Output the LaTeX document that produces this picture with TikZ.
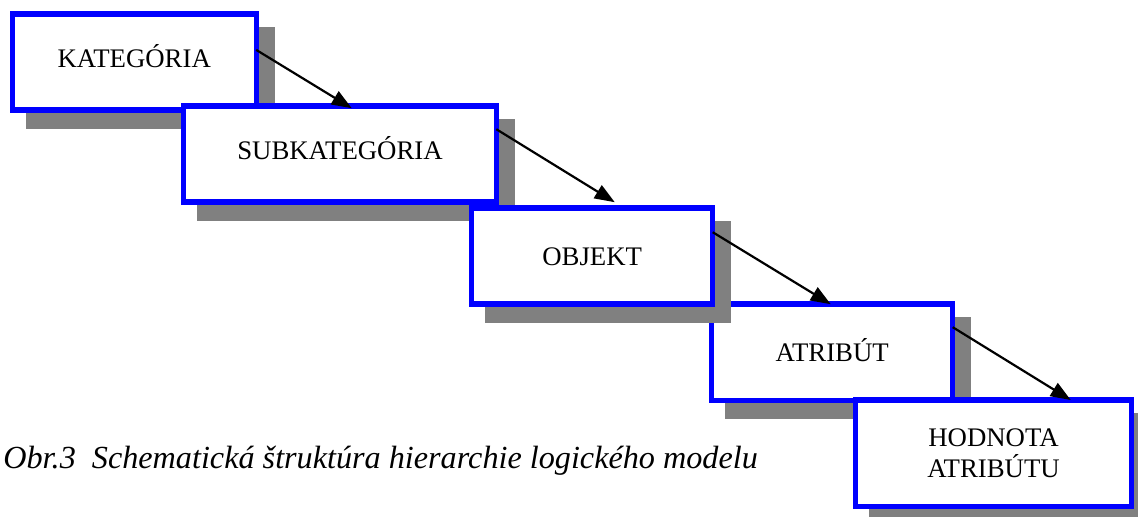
\documentclass[tikz,border=0pt]{standalone}
\usepackage{fontspec}
\setmainfont{Liberation Serif}
\usetikzlibrary{arrows.meta,shadows}

\begin{document}
\begin{tikzpicture}[x=0.5pt,y=-0.5pt,
  box/.style={draw=blue, line width=2.7pt, fill=white, outer sep=0pt,
    minimum height=48pt, text height=8.9pt, text depth=0pt,
    font=\fontsize{13.4}{15.8}\selectfont,
    drop shadow={shadow xshift=8pt, shadow yshift=-8pt, fill=gray, draw=gray, line width=2.7pt, opacity=1}},
  arr/.style={-{Triangle[length=10pt,width=7.5pt]}, line width=1.1pt}]
\useasboundingbox (0,0) rectangle (1138,517);
    \node[box, minimum width=122pt, text depth=3.4pt] at (134.2,61.9) (kat) {KATEGÓRIA};
\node[box, minimum width=156.3pt, text depth=3.6pt] at (340,154.2) (subkat) {SUBKATEGÓRIA};
\node[box, minimum width=120.5pt] at (832.2,352.2) (atribut) {ATRIBÚT};
\node[box, minimum width=120.5pt] at (592.2,256.2) (objekt) {OBJEKT};
\node[box, minimum width=137.8pt, minimum height=53.2pt, text height=, text depth=, align=center] at (993.5,453.2) (hodnota) {HODNOTA\\ATRIBÚTU};
\node[anchor=base west, inner sep=0pt, font=\fontsize{16.1}{19}\selectfont\itshape] at (3,468.5) (popis) {Obr.3\ \ Schematická štruktúra hierarchie logického modelu};
\draw[arr] ([yshift=-18pt]kat.north east) -- ([xshift=84pt,yshift=-1pt]subkat.north west);
\draw[arr] ([yshift=-11.5pt]subkat.north east) -- ([xshift=71.5pt,yshift=3pt]objekt.north west);
\draw[arr] ([yshift=-12pt]objekt.north east) -- ([xshift=59.5pt]atribut.north west);
\draw[arr] ([yshift=-11.5pt]atribut.north east) -- ([xshift=107.5pt]hodnota.north west);
  \end{tikzpicture}
\end{document}
